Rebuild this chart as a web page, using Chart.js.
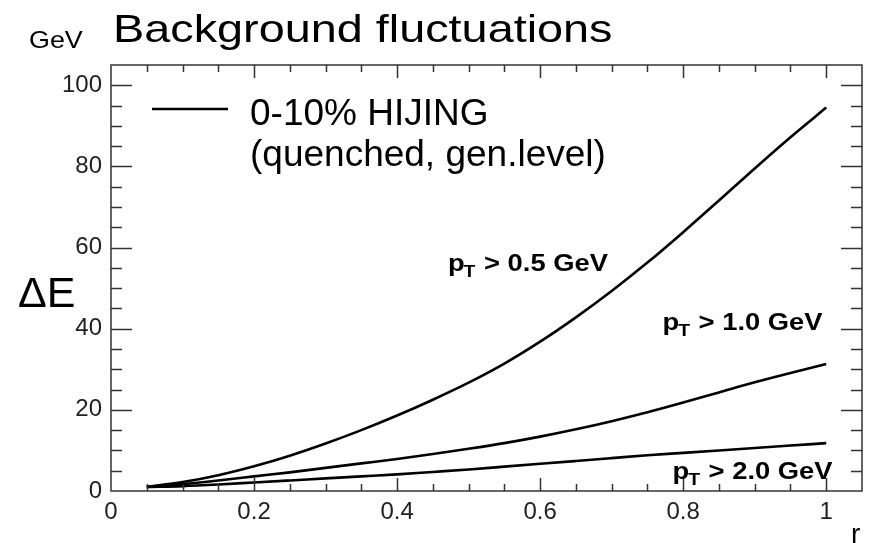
<!DOCTYPE html>
<html>
<head>
<meta charset="utf-8">
<script src="https://cdn.jsdelivr.net/npm/chart.js@4.4.1/dist/chart.umd.min.js"></script>
<style>
  html, body { margin: 0; padding: 0; background: #fff; }
  #bgChart { display: block; }
</style>
</head>
<body>
<canvas id="bgChart" width="869" height="543"></canvas>
<script>
  // cone radius r and energy fluctuation (GeV) for each pT cut
  const rValues = [0.05, 0.1, 0.15, 0.2, 0.25, 0.3, 0.35, 0.4, 0.45, 0.5,
                   0.55, 0.6, 0.65, 0.7, 0.75, 0.8, 0.85, 0.9, 0.95, 1.0];
  const dePt05 = [1.0, 2.2, 3.9, 6.1, 8.7, 11.7, 15.0, 18.6, 22.5, 26.7,
                  31.4, 36.8, 42.8, 49.3, 56.3, 63.8, 71.6, 79.5, 87.2, 94.5];
  const dePt10 = [1.0, 1.7, 2.6, 3.6, 4.6, 5.7, 6.8, 7.9, 9.1, 10.4,
                  11.8, 13.4, 15.2, 17.2, 19.4, 21.8, 24.3, 26.8, 29.1, 31.3];
  const dePt20 = [1.0, 1.2, 1.6, 2.1, 2.6, 3.1, 3.6, 4.1, 4.7, 5.3,
                  6.0, 6.7, 7.4, 8.1, 8.8, 9.4, 10.0, 10.6, 11.2, 11.8];
  const xTickValues = [0, 0.2, 0.4, 0.6, 0.8, 1];
  const yTickValues = [0, 20, 40, 60, 80, 100];

  const FONT = "'Liberation Sans', Arial, sans-serif";

  const toPoints = (ys) => rValues.map((r, i) => ({ x: r, y: ys[i] }));

  const curve = (label, ys) => ({
    label: label,
    data: toPoints(ys),
    showLine: true,
    borderColor: "#000",
    borderWidth: 2.6,
    pointRadius: 0,
    cubicInterpolationMode: "monotone",
  });

  // frame with inward ticks on all four sides
  const frameTicks = {
    id: "frameTicks",
    afterDatasetsDraw(chart) {
      const { ctx, chartArea: a, scales } = chart;
      const x = scales.x, y = scales.y;
      ctx.save();
      ctx.strokeStyle = "#333";
      ctx.lineWidth = 1.5;
      ctx.strokeRect(a.left, a.top, a.right - a.left, a.bottom - a.top);
      ctx.beginPath();
      for (let i = 0; i <= 21; i++) {
        const px = Math.round(x.getPixelForValue(i * 0.05)) + 0.5;
        if (px <= a.left + 1 || px >= a.right - 1) continue;
        const len = i % 4 === 0 ? 13 : 7;
        ctx.moveTo(px, a.bottom);
        ctx.lineTo(px, a.bottom - len);
        ctx.moveTo(px, a.top);
        ctx.lineTo(px, a.top + len);
      }
      for (let i = 0; i <= 21; i++) {
        const py = Math.round(y.getPixelForValue(i * 5)) + 0.5;
        if (py <= a.top + 1 || py >= a.bottom - 1) continue;
        const len = i % 4 === 0 ? 21 : 11;
        ctx.moveTo(a.left, py);
        ctx.lineTo(a.left + len, py);
        ctx.moveTo(a.right, py);
        ctx.lineTo(a.right - len, py);
      }
      ctx.stroke();
      ctx.restore();
    },
  };

  // text drawn with a horizontal stretch factor
  function wideText(ctx, text, x, y, font, sx) {
    ctx.save();
    ctx.font = font;
    ctx.translate(x, y);
    ctx.scale(sx, 1);
    ctx.fillText(text, 0, 0);
    ctx.restore();
    ctx.font = font;
    return ctx.measureText(text).width * sx;
  }

  // "p_T > ... GeV" with subscript T
  function drawPtLabel(ctx, x, y, rest) {
    const sx = 1.14;
    let cx = x;
    cx += wideText(ctx, "p", cx, y, "bold 24px " + FONT, sx);
    cx += wideText(ctx, "T", cx - 1, y + 6, "bold 17px " + FONT, sx);
    wideText(ctx, " > " + rest, cx, y, "bold 24px " + FONT, sx);
  }

  const textLayer = {
    id: "textLayer",
    afterDraw(chart) {
      const { ctx, scales } = chart;
      const x = scales.x, y = scales.y;
      ctx.save();
      ctx.fillStyle = "#000";
      ctx.textBaseline = "alphabetic";
      ctx.textAlign = "left";

      wideText(ctx, "Background fluctuations", 113, 42, "39px " + FONT, 1.2);
      wideText(ctx, "GeV", 29, 48, "24px " + FONT, 1.12);
      ctx.font = "43px " + FONT;
      ctx.fillText("\u0394E", 18, 307);
      ctx.font = "28px " + FONT;
      ctx.fillText("r", 851, 543);

      // legend
      ctx.strokeStyle = "#000";
      ctx.lineWidth = 2.6;
      ctx.beginPath();
      ctx.moveTo(152, 109);
      ctx.lineTo(228, 109);
      ctx.stroke();
      ctx.font = "37px " + FONT;
      ctx.fillText("0-10% HIJING", 250, 125);
      ctx.fillText("(quenched, gen.level)", 250, 166);

      // curve labels, placed in data coordinates
      drawPtLabel(ctx, x.getPixelForValue(0.471), y.getPixelForValue(54.3), "0.5 GeV");
      drawPtLabel(ctx, x.getPixelForValue(0.771), y.getPixelForValue(39.8), "1.0 GeV");
      drawPtLabel(ctx, x.getPixelForValue(0.785), y.getPixelForValue(2.9), "2.0 GeV");
      ctx.restore();
    },
  };

  const ctx = document.getElementById("bgChart").getContext("2d");
  const bgChart = new Chart(ctx, {
    type: "scatter",
    data: {
      datasets: [
        curve("pT > 0.5 GeV", dePt05),
        curve("pT > 1.0 GeV", dePt10),
        curve("pT > 2.0 GeV", dePt20),
      ],
    },
    options: {
      responsive: false,
      animation: false,
      layout: { padding: { top: 65, right: 7, left: 0, bottom: 0 } },
      plugins: {
        legend: { display: false },
        tooltip: { enabled: false },
      },
      scales: {
        x: {
          type: "linear",
          min: 0,
          max: 1.05,
          grid: { display: false, drawTicks: false },
          border: { display: false },
          afterBuildTicks: (scale) => {
            scale.ticks = xTickValues.map((v) => ({ value: v }));
          },
          afterFit: (scale) => {
            scale.height = 52;
          },
          ticks: {
            color: "#222",
            padding: 7,
            maxRotation: 0,
            font: { family: FONT, size: 24 },
            callback: (v) => String(Math.round(v * 10) / 10),
          },
        },
        y: {
          type: "linear",
          min: 0,
          max: 105,
          grid: { display: false, drawTicks: false },
          border: { display: false },
          afterBuildTicks: (scale) => {
            scale.ticks = yTickValues.map((v) => ({ value: v }));
          },
          afterFit: (scale) => {
            scale.width = 111;
          },
          ticks: {
            color: "#222",
            padding: 9,
            font: { family: FONT, size: 24 },
          },
        },
      },
    },
    plugins: [frameTicks, textLayer],
  });
</script>
</body>
</html>
